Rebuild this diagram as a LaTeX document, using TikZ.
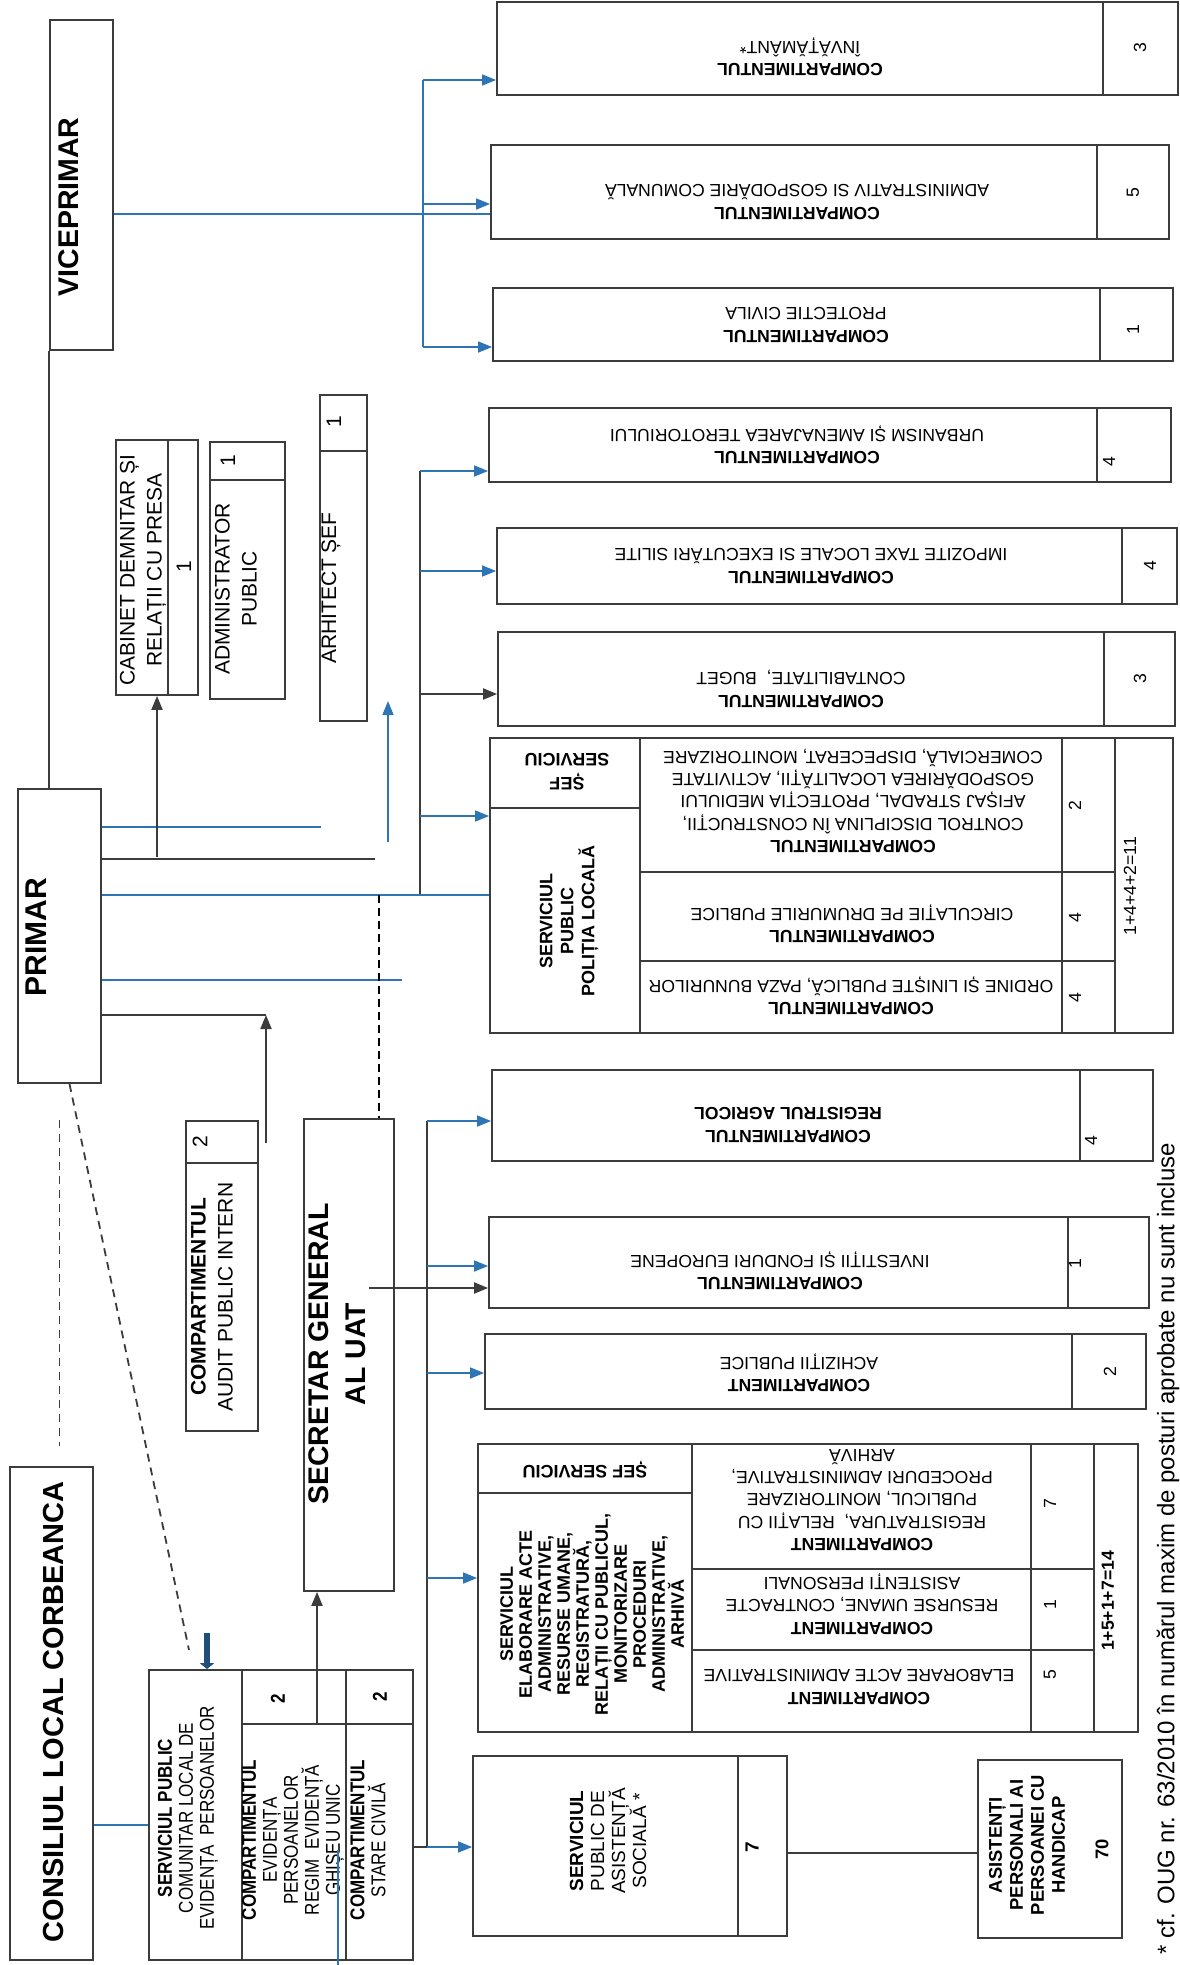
\documentclass[tikz,border=0pt]{standalone}
\usepackage{fontspec}
\setmainfont{Liberation Sans}
\newfontfamily\narrowsans{Liberation Sans}[FakeStretch=0.85]
\usepackage{tikz}
\usetikzlibrary{arrows.meta, fit}

\definecolor{linkblue}{HTML}{2E75B6}
\definecolor{darkblue}{HTML}{1F4E79}
\definecolor{ink}{HTML}{3C3C3C}

\begin{document}
\begin{tikzpicture}[x=0.5pt, y=-0.5pt, >={Triangle[length=7pt,width=5.5pt]},
  box/.style={draw=ink, line width=0.9pt, inner sep=0pt},
  rule/.style={draw=ink, line width=0.9pt},
  txt/.style={font=\fontsize{8.8}{11.2}\selectfont, align=center, inner sep=0pt},
  flip/.style={txt, rotate=180},
  side/.style={txt, rotate=90},
  title/.style={font=\fontsize{14.5}{18.7}\selectfont\bfseries, align=center, inner sep=0pt, rotate=90},
  mid/.style={font=\fontsize{10.5}{13.5}\selectfont, align=center, inner sep=0pt, rotate=90},
  narrow/.style={font=\narrowsans\fontsize{10}{10.5}\selectfont, align=center, inner sep=0pt, rotate=90},
  bline/.style={draw=linkblue, line width=0.8pt},
  kline/.style={draw=ink, line width=1pt},
  dashthin/.style={draw=ink, line width=0.9pt, dash pattern=on 4pt off 3pt},
  dashthick/.style={draw=black, line width=1.4pt, dash pattern=on 4pt off 2.5pt}]

  \fill[white] (0,0) rectangle (1179,1965);
  \useasboundingbox (0,0) rectangle (1179,1965);

  % conducere
  \node[box, fit={(50,20) (113,350)}] (vice) {};
  \node[title, font=\fontsize{14.25}{18}\selectfont\bfseries] (vicetxt) at (69,207) {VICEPRIMAR};
  \node[box, fit={(18,789) (101,1083)}] (primar) {};
  \node[title, font=\fontsize{15}{19}\selectfont\bfseries] (primartxt) at (36,937) {PRIMAR};
  \node[box, fit={(304,1119) (394,1591)}] (secretar) {};
  \node[title, font=\fontsize{14.2}{18.75}\selectfont\bfseries] (secretartxt) at (337,1354) {SECRETAR GENERAL\\AL UAT};
  \node[box, fit={(10,1467) (93,1960)}] (consiliu) {};
  \node[title] (consiliutxt) at (54,1712) {CONSILIUL LOCAL CORBEANCA};

  % aparat propriu
  \node[box, fit={(116,440) (198,695)}] (cabinet) {};
  \draw[rule] (168,440) -- (168,695);
  \node[mid] (cabinettxt) at (143,570) {CABINET DEMNITAR ȘI\\RELAȚII CU PRESA};
  \node[mid] (cabinetnr) at (184,567) {1};

  \node[box, fit={(210,442) (285,699)}] (admin) {};
  \draw[rule] (210,480) -- (285,480);
  \node[mid] (admintxt) at (236,589) {ADMINISTRATOR\\PUBLIC};
  \node[mid] (adminnr) at (228,461) {1};

  \node[box, fit={(320,395) (367,721)}] (arhitect) {};
  \draw[rule] (320,451) -- (367,451);
  \node[mid] (arhitecttxt) at (331,588) {ARHITECT ȘEF};
  \node[mid] (arhitectnr) at (334,422) {1};

  \node[box, fit={(186,1121) (258,1431)}] (audit) {};
  \draw[rule] (186,1163) -- (258,1163);
  \node[mid] (audittxt) at (212,1297) {\textbf{COMPARTIMENTUL}\\AUDIT PUBLIC INTERN};
  \node[mid] (auditnr) at (200,1142) {2};

  \node[box, fit={(149,1670) (413,1960)}] (spclep) {};
  \draw[rule] (242,1670) -- (242,1960);
  \draw[rule] (346,1670) -- (346,1960);
  \draw[rule] (242,1724) -- (413,1724);
  \node[narrow] (spcleptxt) at (188,1818) {\textbf{SERVICIUL PUBLIC}\\COMUNITAR LOCAL DE\\EVIDENȚA\ \ PERSOANELOR};
  \node[narrow] (evidtxt) at (293,1840) {\textbf{COMPARTIMENTUL}\\EVIDENȚA\\PERSOANELOR\\REGIM\ \ EVIDENȚĂ\\GHIȘEU UNIC};
  \node[narrow] (evidnr) at (278,1699) {\textbf{2}};
  \node[narrow] (staretxt) at (368,1840) {\textbf{COMPARTIMENTUL}\\STARE CIVILĂ};
  \node[narrow] (starenr) at (380,1697) {\textbf{2}};

  \node[box, fit={(473,1756) (787,1936)}] (spas) {};
  \draw[rule] (738,1756) -- (738,1936);
  \node[side, font=\fontsize{9.5}{10.5}\selectfont] (spastxt) at (608,1841) {\textbf{SERVICIUL}\\PUBLIC DE\\ASISTENȚĂ\\SOCIALĂ *};
  \node[side, font=\fontsize{9.5}{10.5}\selectfont\bfseries] (spasnr) at (752,1847) {7};

  \node[box, fit={(978,1760) (1122,1938)}] (asist) {};
  \node[side, font=\fontsize{9.2}{10.5}\selectfont\bfseries] (asisttxt) at (1027,1845) {ASISTENȚI\\PERSONALI AI\\PERSOANEI CU\\HANDICAP};
  \node[side, font=\fontsize{9.2}{10.5}\selectfont\bfseries] (asistnr) at (1102,1849) {70};

  % compartimente
  \node[box, fit={(497,2) (1178,95)}] (inv) {};
  \draw[rule] (1103,2) -- (1103,95);
  \node[flip] (invtxt) at (800,57) {\textbf{COMPARTIMENTUL}\\ÎNVĂȚĂMÂNT*};
  \node[side] (invnr) at (1140,48) {3};

  \node[box, fit={(491,145) (1169,239)}] (adm) {};
  \draw[rule] (1097,145) -- (1097,239);
  \node[flip] (admtxt) at (797,202) {\textbf{COMPARTIMENTUL}\\ADMINISTRATIV SI GOSPODĂRIE COMUNALĂ};
  \node[side] (admnr) at (1133,193) {5};

  \node[box, fit={(493,288) (1173,361)}] (pc) {};
  \draw[rule] (1100,288) -- (1100,361);
  \node[flip] (pctxt) at (806,325) {\textbf{COMPARTIMENTUL}\\PROTECTIE CIVILA};
  \node[side] (pcnr) at (1133,330) {1};

  \node[box, fit={(489,408) (1171,482)}] (urb) {};
  \draw[rule] (1097,408) -- (1097,482);
  \node[flip] (urbtxt) at (797,445) {\textbf{COMPARTIMENTUL}\\URBANISM ȘI AMENAJAREA TEROTORIULUI};
  \node[side] (urbnr) at (1109,462) {4};

  \node[box, fit={(497,528) (1177,604)}] (imp) {};
  \draw[rule] (1122,528) -- (1122,604);
  \node[flip] (imptxt) at (811,566) {\textbf{COMPARTIMENTUL}\\IMPOZITE TAXE LOCALE SI EXECUTĂRI SILITE};
  \node[side] (impnr) at (1150,566) {4};

  \node[box, fit={(498,632) (1175,726)}] (cont) {};
  \draw[rule] (1104,632) -- (1104,726);
  \node[flip] (conttxt) at (801,689) {\textbf{COMPARTIMENTUL}\\CONTABILITATE,\ \ BUGET};
  \node[side] (contnr) at (1140,679) {3};

  % politia locala
  \node[box, fit={(490,738) (1173,1033)}] (pol) {};
  \draw[rule] (640,738) -- (640,1033);
  \draw[rule] (490,808) -- (640,808);
  \draw[rule] (640,872) -- (1115,872);
  \draw[rule] (640,961) -- (1115,961);
  \draw[rule] (1062,738) -- (1062,1033);
  \draw[rule] (1115,738) -- (1115,1033);
  \node[flip, font=\fontsize{9}{12}\selectfont\bfseries] (polsef) at (567,772) {ȘEF\\SERVICIU};
  \node[side, font=\fontsize{9}{10.5}\selectfont\bfseries] (poltxt) at (569,921) {SERVICIUL\\PUBLIC\\POLIȚIA LOCALĂ};
  \node[flip] (polrow1) at (853,801) {\textbf{COMPARTIMENTUL}\\CONTROL DISCIPLINA ÎN CONSTRUCȚII,\\AFIȘAJ STRADAL, PROTECȚIA MEDIULUI\\GOSPODĂRIREA LOCALITĂȚII, ACTIVITATE\\COMERCIALĂ, DISPECERAT, MONITORIZARE};
  \node[flip] (polrow2) at (852,924) {\textbf{COMPARTIMENTUL}\\CIRCULAȚIE PE DRUMURILE PUBLICE};
  \node[flip] (polrow3) at (851,996) {\textbf{COMPARTIMENTUL}\\ORDINE ȘI LINIȘTE PUBLICĂ, PAZA BUNURILOR};
  \node[side] (polnr1) at (1075,806) {2};
  \node[side] (polnr2) at (1075,918) {4};
  \node[side] (polnr3) at (1075,998) {4};
  \node[side] (polsum) at (1130,886) {1+4+4+2=11};

  \node[box, fit={(492,1070) (1153,1161)}] (reg) {};
  \draw[rule] (1080,1070) -- (1080,1161);
  \node[flip, font=\fontsize{8.8}{11.2}\selectfont\bfseries] (regtxt) at (788,1125) {COMPARTIMENTUL\\REGISTRUL AGRICOL};
  \node[side] (regnr) at (1091,1141) {4};

  \node[box, fit={(489,1217) (1149,1308)}] (invest) {};
  \draw[rule] (1068,1217) -- (1068,1308);
  \node[flip] (investtxt) at (780,1271) {\textbf{COMPARTIMENTUL}\\INVESTIȚII ȘI FONDURI EUROPENE};
  \node[side] (investnr) at (1075,1264) {1};

  \node[box, fit={(485,1334) (1146,1409)}] (achiz) {};
  \draw[rule] (1072,1334) -- (1072,1409);
  \node[flip] (achiztxt) at (799,1373) {\textbf{COMPARTIMENT}\\ACHIZIȚII PUBLICE};
  \node[side] (achiznr) at (1110,1372) {2};

  % serviciul elaborare acte
  \node[box, fit={(478,1444) (1138,1732)}] (elab) {};
  \draw[rule] (692,1444) -- (692,1732);
  \draw[rule] (478,1493) -- (692,1493);
  \draw[rule] (692,1569) -- (1094,1569);
  \draw[rule] (692,1650) -- (1094,1650);
  \draw[rule] (1031,1444) -- (1031,1732);
  \draw[rule] (1094,1444) -- (1094,1732);
  \node[flip, font=\fontsize{9}{11}\selectfont\bfseries] (elabsef) at (585,1470) {ȘEF SERVICIU};
  \node[side, font=\fontsize{9}{9.5}\selectfont\bfseries] (elabtxt) at (592,1614) {SERVICIUL\\ELABORARE ACTE\\ADMINISTRATIVE,\\RESURSE UMANE,\\REGISTRATURĂ,\\RELAȚII CU PUBLICUL,\\MONITORIZARE\\PROCEDURI\\ADMINISTRATIVE,\\ARHIVĂ};
  \node[flip] (elabrow1) at (862,1500) {\textbf{COMPARTIMENT}\\REGISTRATURA,\ \ RELAȚII CU\\PUBLICUL, MONITORIZARE\\PROCEDURI ADMINISTRATIVE,\\ARHIVĂ};
  \node[flip] (elabrow2) at (862,1604) {\textbf{COMPARTIMENT}\\RESURSE UMANE, CONTRACTE\\ASISTENȚI PERSONALI};
  \node[flip] (elabrow3) at (859,1687) {\textbf{COMPARTIMENT}\\ELABORARE ACTE ADMINISTRATIVE};
  \node[side] (elabnr1) at (1050,1504) {7};
  \node[side] (elabnr2) at (1050,1605) {1};
  \node[side] (elabnr3) at (1050,1675) {5};
  \node[side, font=\fontsize{8.8}{11}\selectfont\bfseries] (elabsum) at (1108,1601) {1+5+1+7=14};

  \node[side, font=\fontsize{12}{14}\selectfont, anchor=west] (footnote) at (1168,1955) {* cf. OUG nr. 63/2010 în numărul maxim de posturi aprobate nu sunt incluse};

  % legaturi viceprimar
  \draw[kline] (vice.south west) -- (vice.south west |- primar.north);
  \coordinate (vbus1) at (423,80);
  \coordinate (vbusm) at (423,204);
  \coordinate (vbus2) at (423,347);
  \draw[bline] (vbus1) -- (vbus2);
  \draw[bline,->] (vbus1) -- (vbus1 -| inv.west);
  \draw[bline,->] (vbusm) -- (vbusm -| adm.west);
  \draw[bline,->] (vbus2) -- (vbus2 -| pc.west);
  \draw[bline] (vice.east |- 0,214) -- (adm.west |- 0,214);

  % legaturi primar
  \coordinate (pbus1) at (420,471);
  \coordinate (pbusa) at (420,571);
  \coordinate (pbusb) at (420,694);
  \coordinate (pbusc) at (420,816);
  \coordinate (pbus2) at (420,895);
  \draw[kline] (pbus1) -- (pbus2);
  \draw[bline,->] (pbus1) -- (pbus1 -| urb.west);
  \draw[bline,->] (pbusa) -- (pbusa -| imp.west);
  \draw[kline,->] (pbusb) -- (pbusb -| cont.west);
  \draw[bline,->] (pbusc) -- (pbusc -| pol.west);
  \draw[bline] (primar.east |- pbus2) -- (pol.west |- pbus2);

  \coordinate (p1) at (321,827);
  \coordinate (p2) at (375,859);
  \coordinate (p3) at (388,842);
  \coordinate (p3top) at (388,701);
  \coordinate (p4) at (402,980);
  \coordinate (p5) at (266,1015);
  \coordinate (cabfoot) at (157,857);
  \coordinate (auditup) at (266,1143);
  \draw[bline] (primar.east |- p1) -- (p1);
  \draw[kline] (primar.east |- p2) -- (p2);
  \draw[bline,->] (p3) -- (p3top);
  \draw[kline,->] (cabfoot) -- (cabinet.south);
  \draw[bline] (primar.east |- p4) -- (p4);
  \draw[kline] (primar.east |- p5) -- (p5);
  \draw[kline,->] (auditup) -- (p5);

  % linii punctate
  \coordinate (dashend) at (189,1650);
  \coordinate (sdash) at (379,895);
  \draw[dashthin] ([xshift=5pt]primar.south) -- (dashend);
  \draw[dashthin, shorten <=18pt, shorten >=10pt] (primar.south) -- (primar.south |- consiliu.north);
  \draw[dashthick] (sdash) -- (secretar.north -| sdash);
  \draw[darkblue, line width=3pt, -{Triangle[length=3pt,width=7pt]}] (207,1633) -- (spclep.north -| 207,0);

  % legaturi secretar
  \coordinate (sbus1) at (427,1121);
  \coordinate (sbusa) at (427,1266);
  \coordinate (sbusb) at (427,1373);
  \coordinate (sbusc) at (427,1578);
  \coordinate (sbus2) at (427,1847);
  \coordinate (secin) at (369,1288);
  \coordinate (evidup) at (317,1724);
  \draw[kline] (sbus1) -- (sbus2);
  \draw[bline,->] (sbus1) -- (sbus1 -| reg.west);
  \draw[bline,->] (sbusa) -- (sbusa -| invest.west);
  \draw[bline,->] (sbusb) -- (sbusb -| achiz.west);
  \draw[bline,->] (sbusc) -- (sbusc -| elab.west);
  \draw[kline] (spclep.east |- sbus2) -- (sbus2);
  \draw[bline,->] (sbus2) -- (sbus2 -| spas.west);
  \draw[kline,->] (secin) -- (secin -| invest.west);
  \draw[kline,->] (evidup) -- (secretar.south -| evidup);

  \draw[bline] (consiliu.east |- 0,1825) -- (spclep.west |- 0,1825);
  \draw[kline] (spas.east |- 0,1853) -- (asist.west |- 0,1853);
  \draw[bline] (338,1850) -- (338,1965);
\end{tikzpicture}
\end{document}
